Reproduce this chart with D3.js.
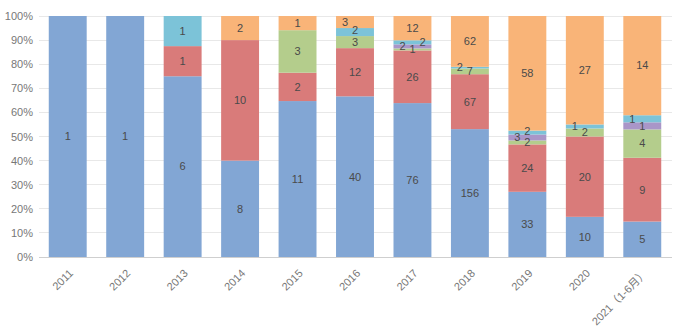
<!DOCTYPE html>
<html><head><meta charset="utf-8">
<script src="https://cdn.jsdelivr.net/npm/d3@7"></script>
<style>body{margin:0;background:#fff}svg{display:block}</style>
</head><body><svg id="c" width="677" height="333"></svg>
<script>
const years = ["2011","2012","2013","2014","2015","2016","2017","2018","2019","2020","2021（1-6月）"];
const seriesNames = ["s1","s2","s3","s4","s5","s6"];
const s1 = [1,1,6,8,11,40,76,156,33,10,5];
const s2 = [0,0,1,10,2,12,26,67,24,20,9];
const s3 = [0,0,0,0,3,3,1,7,2,2,4];
const s4 = [0,0,0,0,0,0,2,0,3,0,1];
const s5 = [0,0,1,0,0,2,2,2,2,1,1];
const s6 = [0,0,0,2,1,3,12,62,58,27,14];
const colors = ["#82a6d4","#d97b7a","#b4cd8c","#a996c8","#7cc3d8","#f9b478"];
const yTicks = [0,0.1,0.2,0.3,0.4,0.5,0.6,0.7,0.8,0.9,1];

const all = [s1,s2,s3,s4,s5,s6];
const rows = years.map((y,i)=>{const r={year:y}; seriesNames.forEach((k,j)=>r[k]=all[j][i]); return r;});
const stack = d3.stack().keys(seriesNames).offset(d3.stackOffsetExpand)(rows);

const svg = d3.select("#c");
const font = "'Liberation Sans','Noto Sans CJK SC',Arial,sans-serif";
const x = d3.scaleBand().domain(years).range([39,671]).paddingInner(0.34).paddingOuter(0.17);
const y = d3.scaleLinear().domain([0,1]).range([257,16]);

// grid
svg.append("g").selectAll("line").data(yTicks.filter(t=>t>0)).join("line")
  .attr("x1",39).attr("x2",672).attr("y1",d=>y(d)).attr("y2",d=>y(d))
  .attr("stroke","#e8e8e8").attr("stroke-width",1).attr("shape-rendering","crispEdges");

// y axis labels
const yAxis = d3.axisLeft(y).tickValues(yTicks).tickFormat(d=>Math.round(d*100)+"%").tickSize(0).tickPadding(0);
const gy = svg.append("g").attr("transform","translate(33,0)").call(yAxis);
gy.select(".domain").remove();
gy.selectAll("text").attr("font-family",font).attr("font-size",11).attr("fill","#777");

// bars
stack.forEach((layer,j)=>{
  svg.append("g").attr("fill",colors[j]).selectAll("rect").data(layer).join("rect")
    .attr("x",d=>x(d.data.year)).attr("width",x.bandwidth())
    .attr("y",d=>y(d[1])).attr("height",d=>Math.max(0,y(d[0])-y(d[1])));
});

// axis line
svg.append("line").attr("x1",39).attr("x2",672).attr("y1",y(0)+0.5).attr("y2",y(0)+0.5)
  .attr("stroke","#cfcfcf").attr("stroke-width",1);

// x labels
const xAxis = d3.axisBottom(x).tickSize(0).tickPadding(0);
const gx = svg.append("g").attr("transform","translate(0,"+y(0)+")").call(xAxis);
gx.select(".domain").remove();
gx.selectAll("text").attr("font-family",font).attr("font-size",11).attr("fill","#777")
  .attr("text-anchor","end").attr("dy",0).attr("y",0)
  .attr("transform","translate(6,17) rotate(-45)");

// value labels with simple overlap avoidance
const labels = [];
years.forEach((yr,i)=>{
  const placed = [];
  stack.forEach((layer,j)=>{
    const d = layer[i];
    const v = all[j][i];
    if(!v) return;
    let cy = (y(d[0])+y(d[1]))/2;
    const cx = x(yr)+x.bandwidth()/2;
    const slots = [0,-10,10];
    let off = 0;
    for(const s of slots){
      if(!placed.some(p=>p.s===s && Math.abs(p.y-cy)<9)){off=s;break;}
    }
    // vertical push within the same slot
    placed.filter(p=>p.s===off).forEach(p=>{ if(p.y-cy<11.5) cy = p.y-11.5; });
    placed.push({s:off,y:cy});
    labels.push({x:cx+off,y:cy,t:v});
  });
});
svg.append("g").selectAll("text").data(labels).join("text")
  .attr("x",d=>d.x).attr("y",d=>d.y).attr("dy","0.35em")
  .attr("text-anchor","middle").attr("font-family",font).attr("font-size",11)
  .attr("fill","#4a4a4a").text(d=>d.t);
</script></body></html>
